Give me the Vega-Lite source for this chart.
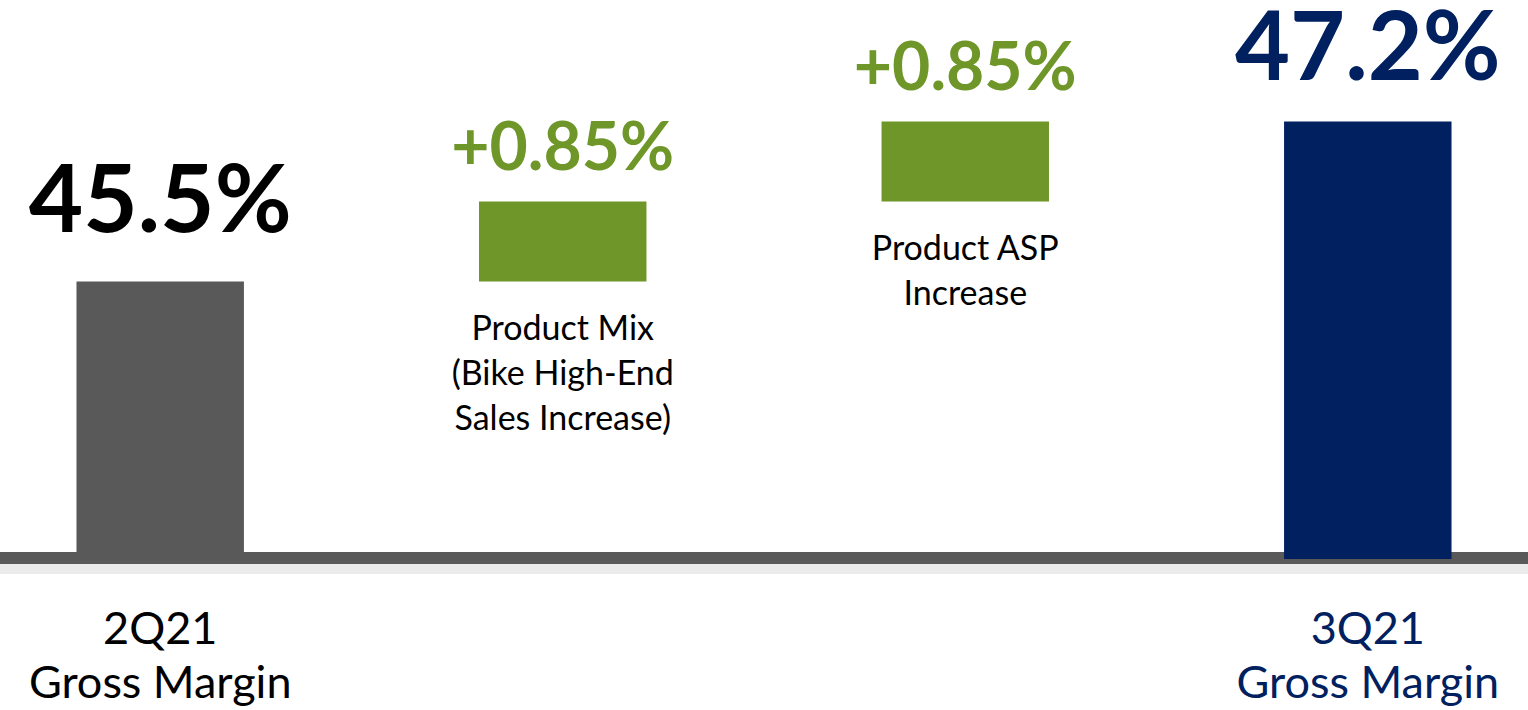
{
  "$schema": "https://vega.github.io/schema/vega-lite/v6.json",
  "width": 1528,
  "height": 559,
  "autosize": {"type": "none"},
  "padding": {"left": 0, "top": 0, "right": 0, "bottom": 151},
  "background": "white",
  "config": {"view": {"stroke": null}, "font": "Lato"},
  "data": {
    "values": [
      {"cat": "2Q21|Gross Margin", "kind": "t0", "start": 0, "end": 45.5, "label": "45.5%", "note": ""},
      {"cat": "Product Mix", "kind": "inc", "start": 45.5, "end": 46.35, "label": "+0.85%", "note": "Product Mix|(Bike High-End|Sales Increase)"},
      {"cat": "Product ASP", "kind": "inc", "start": 46.35, "end": 47.2, "label": "+0.85%", "note": "Product ASP|Increase"},
      {"cat": "3Q21|Gross Margin", "kind": "t1", "start": 0, "end": 47.2, "label": "47.2%", "note": ""}
    ]
  },
  "layer": [
    {
      "data": {"values": [{}]},
      "mark": {"type": "rule", "color": "#000000", "opacity": 0.08, "strokeWidth": 12, "yOffset": 9},
      "encoding": {
        "y": {"datum": 42.55, "type": "quantitative", "scale": {"domain": [42.55, 48.49], "clamp": true, "nice": false, "zero": false}, "axis": null}
      }
    },
    {
      "data": {"values": [{}]},
      "mark": {"type": "rule", "color": "#595959", "strokeWidth": 12, "yOffset": -1},
      "encoding": {
        "y": {"datum": 42.55, "type": "quantitative", "scale": {"domain": [42.55, 48.49], "clamp": true, "nice": false, "zero": false}, "axis": null}
      }
    },
    {
      "mark": {"type": "bar"},
      "encoding": {
        "x": {
          "field": "cat", "type": "nominal", "sort": null,
          "scale": {"paddingInner": 0.584, "paddingOuter": 0.19},
          "axis": {
            "title": null, "domain": false, "ticks": false, "tickSize": 0,
            "labelPadding": 48, "labelAngle": 0, "labelBaseline": "top",
            "labelExpr": "indexof(datum.value,'Q21')>=0 ? split(datum.value,'|') : ''",
            "labelFont": "Lato", "labelFontSize": 45, "labelLineHeight": 54,
            "labelOverlap": false, "labelBound": false, "labelLimit": 0,
            "labelColor": {"condition": {"test": "indexof(datum.value,'3Q21')>=0", "value": "#002060"}, "value": "#000000"}
          }
        },
        "y": {"field": "end", "type": "quantitative", "scale": {"domain": [42.55, 48.49], "clamp": true, "nice": false, "zero": false}, "axis": null},
        "y2": {"field": "start"},
        "fill": {"field": "kind", "type": "nominal", "scale": {"domain": ["t0", "inc", "t1"], "range": ["#595959", "#6F9628", "#002060"]}, "legend": null}
      }
    },
    {
      "transform": [{"filter": "datum.kind == 't0'"}],
      "mark": {"type": "text", "font": "Lato", "fontWeight": "bold", "fontSize": 94, "baseline": "alphabetic", "align": "center", "dy": -49, "color": "#000000"},
      "encoding": {
        "x": {"field": "cat", "type": "nominal", "sort": null},
        "y": {"field": "end", "type": "quantitative"},
        "text": {"field": "label"}
      }
    },
    {
      "transform": [{"filter": "datum.kind == 't1'"}],
      "mark": {"type": "text", "font": "Lato", "fontWeight": "bold", "fontSize": 95, "baseline": "alphabetic", "align": "center", "dy": -41, "color": "#002060"},
      "encoding": {
        "x": {"field": "cat", "type": "nominal", "sort": null},
        "y": {"field": "end", "type": "quantitative"},
        "text": {"field": "label"}
      }
    },
    {
      "transform": [{"filter": "datum.kind == 'inc'"}],
      "mark": {"type": "text", "font": "Lato", "fontWeight": "bold", "fontSize": 66, "baseline": "alphabetic", "align": "center", "dy": -31, "color": "#6F9628"},
      "encoding": {
        "x": {"field": "cat", "type": "nominal", "sort": null},
        "y": {"field": "end", "type": "quantitative"},
        "text": {"field": "label"}
      }
    },
    {
      "transform": [{"filter": "datum.kind == 'inc'"}],
      "mark": {"type": "text", "font": "Lato", "fontSize": 34, "baseline": "top", "align": "center", "dy": 32, "lineBreak": "|", "lineHeight": 45, "color": "#000000"},
      "encoding": {
        "x": {"field": "cat", "type": "nominal", "sort": null},
        "y": {"field": "start", "type": "quantitative"},
        "text": {"field": "note"}
      }
    }
  ]
}
